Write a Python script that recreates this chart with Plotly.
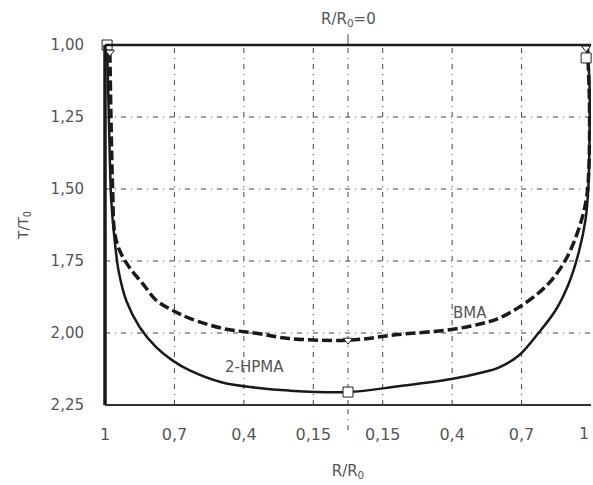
import plotly.graph_objects as go

# Position on the symmetric radius axis (u) -> R/R0 labels
tick_pos = [-3.5, -2.5, -1.5, -0.5, 0.5, 1.5, 2.5]
tick_text = ["1", "0,7", "0,4", "0,15", "0,15", "0,4", "0,7"]
right_label = "1"
grid_x = [-2.5, -1.5, -0.5, 0, 0.5, 1.5, 2.5]
y_ticks = [1.00, 1.25, 1.50, 1.75, 2.00, 2.25]
y_text = ["1,00", "1,25", "1,50", "1,75", "2,00", "2,25"]

# 2-HPMA (solid)
hpma_u = [-3.47, -3.45, -3.43, -3.41, -3.36, -3.30, -3.19, -3.0, -2.76, -2.53, -2.28,
          -1.81, -1.32, -0.85, 0.0, 0.73, 1.49, 1.93, 2.17, 2.46, 2.74, 2.99, 3.18,
          3.32, 3.42, 3.46, 3.48, 3.48, 3.46]
hpma_t = [1.00, 1.20, 1.40, 1.54, 1.68, 1.79, 1.89, 1.98, 2.05, 2.095, 2.13,
          2.172, 2.19, 2.20, 2.205, 2.185, 2.16, 2.137, 2.12, 2.078, 2.001, 1.921, 1.828,
          1.723, 1.608, 1.504, 1.30, 1.15, 1.045]

# BMA (dashed)
bma_u = [-3.43, -3.41, -3.39, -3.36, -3.29, -3.15, -2.96, -2.76, -2.53, -2.28, -1.81,
         -1.32, -0.85, 0.0, 0.73, 1.49, 1.93, 2.17, 2.46, 2.74, 2.93, 3.13, 3.28,
         3.39, 3.45, 3.48, 3.45]
bma_t = [1.025, 1.30, 1.50, 1.654, 1.713, 1.772, 1.828, 1.887, 1.921, 1.949, 1.984,
         2.001, 2.019, 2.025, 2.005, 1.988, 1.967, 1.949, 1.911, 1.862, 1.817, 1.748, 1.668,
         1.584, 1.504, 1.25, 1.01]

# marker points
hpma_mu = [-3.47, 0.0, 3.43]
hpma_mt = [1.00, 2.205, 1.045]
bma_mu = [-3.43, 0.0, 3.43]
bma_mt = [1.025, 2.025, 1.01]

font = "DejaVu Sans"
gray = "#555555"
dd = "5px,5px,1px,5px"

fig = go.Figure()
fig.add_trace(go.Scatter(x=hpma_u, y=hpma_t, mode="lines", line=dict(color="#1a1a1a", width=2.5),
                         line_shape="spline", showlegend=False, hoverinfo="skip"))
fig.add_trace(go.Scatter(x=bma_u, y=bma_t, mode="lines",
                         line=dict(color="#1a1a1a", width=3.5, dash="10px,4px"),
                         line_shape="spline", showlegend=False, hoverinfo="skip"))
fig.add_trace(go.Scatter(x=hpma_mu, y=hpma_mt, mode="markers",
                         marker=dict(symbol="square", size=10, color="white",
                                     line=dict(color="#222222", width=1)),
                         showlegend=False, cliponaxis=False))
fig.add_trace(go.Scatter(x=bma_mu, y=bma_mt, mode="markers",
                         marker=dict(symbol="triangle-down", size=8, color="white",
                                     line=dict(color="#222222", width=1)),
                         showlegend=False, cliponaxis=False))

# grid lines (dash-dot)
for gx in grid_x:
    fig.add_shape(type="line", x0=gx, x1=gx, y0=0, y1=1, xref="x", yref="paper",
                  line=dict(color="#444444", width=1, dash=dd), layer="below")
for gy in y_ticks[1:-1]:
    fig.add_shape(type="line", x0=0, x1=1, y0=gy, y1=gy, xref="paper", yref="y",
                  line=dict(color="#444444", width=1, dash=dd), layer="below")
# centre line extending beyond the plot
fig.add_shape(type="line", x0=0, x1=0, y0=-0.07, y1=0, xref="x", yref="paper",
              line=dict(color="#444444", width=1, dash=dd))
fig.add_shape(type="line", x0=0, x1=0, y0=1, y1=1.03, xref="x", yref="paper",
              line=dict(color="#444444", width=1))
# frame
fig.add_shape(type="line", x0=0, x1=1, y0=1, y1=1, xref="paper", yref="paper",
              line=dict(color="#1a1a1a", width=2.5))
fig.add_shape(type="line", x0=0, x1=1, y0=0, y1=0, xref="paper", yref="paper",
              line=dict(color="#333333", width=2))
fig.add_shape(type="line", x0=0, x1=0, y0=0, y1=1, xref="paper", yref="paper",
              line=dict(color="#1a1a1a", width=3.5))

fig.add_annotation(x=-1.35, y=2.118, text="2-HPMA", showarrow=False,
                   font=dict(family=font, size=15, color=gray))
fig.add_annotation(x=1.76, y=1.93, text="BMA", showarrow=False,
                   font=dict(family=font, size=15, color=gray))
fig.add_annotation(x=0, y=1, yref="paper", yshift=37, text="R/R<sub>0</sub>=0", showarrow=False,
                   font=dict(family=font, size=15, color=gray))
fig.add_annotation(x=1, xref="paper", xanchor="right", y=0, yref="paper", yshift=-40,
                   text=right_label, showarrow=False, font=dict(family=font, size=16, color=gray))

fig.update_layout(
    width=593, height=485,
    margin=dict(l=105, r=2, t=45, b=80),
    paper_bgcolor="white", plot_bgcolor="white",
    font=dict(family=font, color=gray),
    xaxis=dict(range=[-3.5, 3.5], tickvals=tick_pos, ticktext=tick_text,
               showgrid=False, zeroline=False, showline=False, ticks="",
               ticklabelstandoff=18,
               tickfont=dict(size=16, color=gray),
               title=dict(text="R/R<sub>0</sub>", font=dict(size=15, color=gray), standoff=22)),
    yaxis=dict(range=[2.25, 1.0], tickvals=y_ticks, ticktext=y_text,
               showgrid=False, zeroline=False, showline=False, ticks="",
               ticklabelstandoff=20, tickfont=dict(size=15, color=gray),
               title=dict(text="T/T<sub>0</sub>", font=dict(size=14, color=gray), standoff=18)),
)

fig.write_html("out.html")
